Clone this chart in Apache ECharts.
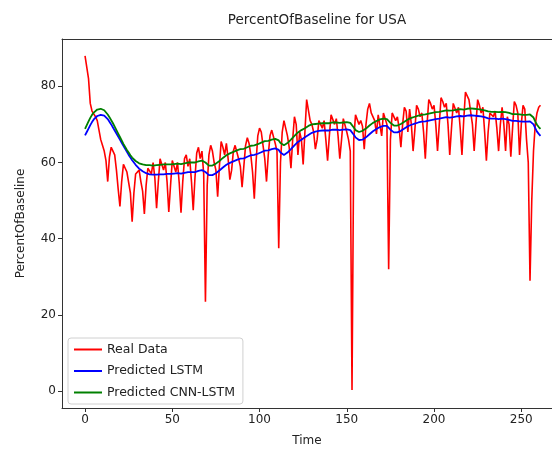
<!doctype html>
<html lang="en">
<head>
<meta charset="UTF-8">
<script src="https://cdn.jsdelivr.net/npm/echarts@6/dist/echarts.min.js"></script>
<style>
  html, body { margin: 0; padding: 0; background: #fff; }
  #main { width: 552px; height: 452px; }
</style>
</head>
<body>
<div id="main"></div>
<script>
// tick labels
var xTicks = [0, 50, 100, 150, 200, 250];
var yTicks = [0, 20, 40, 60, 80];

// Real Data (red)
var realData = [
  88.0, 87.5, 82.0, 75.5, 73.5, 73.0, 72.0, 71.0, 68.5, 66.0, 64.5, 63.0, 60.5, 55.0,
  61.5, 64.0, 63.0, 62.0, 58.0, 53.0, 48.5,
  55.0, 59.5, 60.0, 57.5, 58.0, 52.0, 44.5,
  52.0, 57.0, 56.5, 58.0, 55.0, 52.5, 46.5,
  54.0, 58.5, 59.0, 57.0, 60.0, 56.0, 48.0,
  55.0, 61.0, 60.5, 58.0, 60.0, 55.0, 47.0,
  54.0, 60.5, 60.0, 57.5, 60.0, 54.5, 46.8,
  55.0, 61.0, 62.0, 59.0, 61.0, 55.0, 47.5,
  56.0, 62.5, 64.0, 61.0, 63.0, 57.0, 23.5,
  54.0, 62.0, 64.5, 63.0, 60.0, 58.0, 51.0,
  59.0, 65.5, 64.0, 62.0, 65.0, 61.0, 55.5,
  58.0, 63.0, 64.5, 64.0, 61.0, 59.0, 53.5,
  59.0, 64.5, 66.5, 65.0, 62.0, 57.5, 50.5,
  60.0, 67.0, 69.0, 68.0, 64.5, 61.0, 55.0,
  62.0, 67.0, 68.5, 69.0, 65.0, 63.0, 37.5,
  60.0, 68.0, 71.0, 70.5, 67.0, 64.0, 58.5,
  66.0, 72.0, 70.0, 62.0, 68.0, 66.0, 59.5,
  68.0, 76.5, 76.0, 71.0, 70.0, 68.0, 63.5,
  66.0, 71.0, 70.5, 69.0, 71.0, 66.0, 60.5,
  67.0, 72.5, 72.0, 70.0, 71.5, 67.0, 61.0,
  66.0, 71.5, 71.0, 68.0, 66.0, 63.0, 0.3,
  66.0, 72.5, 72.0, 70.0, 71.0, 69.5, 63.5,
  70.0, 74.0, 75.5, 73.0, 73.5, 71.0, 67.5,
  72.5, 73.0, 67.0, 73.0, 72.5, 70.0, 32.0,
  66.0, 73.0, 72.5, 71.0, 72.0, 69.0, 64.0,
  70.0, 74.5, 73.5, 68.0, 74.0, 70.0, 63.0,
  68.5, 75.0, 74.0, 72.0, 73.0, 68.0, 61.0,
  70.0, 76.5, 75.5, 74.0, 75.0, 70.0, 63.0,
  70.0, 77.0, 76.0, 74.5, 75.5, 70.0, 62.0,
  69.0, 75.5, 75.0, 73.0, 74.5, 69.0, 62.0,
  71.0, 78.5, 77.5, 76.5, 77.0, 70.0, 63.0,
  70.0, 76.5, 75.0, 73.0, 74.5, 68.0, 60.5,
  68.0, 73.0, 72.5, 72.0, 73.5, 69.0, 63.0,
  70.0, 74.5, 70.0, 63.0, 72.0, 70.0, 61.5,
  69.0, 76.0, 75.0, 73.0, 62.0, 70.0, 75.0,
  74.0, 66.0, 60.0, 29.0, 50.0, 63.0, 70.0,
  73.0, 74.5, 75.0
];

// Predicted LSTM (blue)
var lstmData = [
  67.1, 68.0, 68.9, 69.8, 70.6, 71.3, 71.8, 72.2, 72.4, 72.5, 72.5, 72.3, 71.9, 71.4, 70.7, 70.0, 69.2, 68.4, 67.6, 66.8,
  66.0, 65.2, 64.4, 63.6, 62.8, 62.0, 61.3, 60.6, 60.0, 59.4, 58.9, 58.4, 58.0, 57.7, 57.4, 57.2, 57.0, 56.9, 56.8, 56.8,
  56.8, 56.8, 56.8, 56.9, 56.9, 56.9, 57.0, 57.0, 56.9, 57.0, 57.0, 57.1, 57.1, 57.2, 57.2, 57.1, 57.2, 57.3, 57.4, 57.5,
  57.5, 57.5, 57.4, 57.5, 57.7, 57.8, 57.9, 58.0, 57.9, 57.5, 57.0, 56.7, 56.6, 56.7, 56.9, 57.2, 57.5, 57.9, 58.3, 58.7,
  59.1, 59.4, 59.7, 59.9, 60.1, 60.3, 60.5, 60.7, 60.9, 61.0, 61.0, 61.1, 61.3, 61.5, 61.7, 61.9, 62.0, 62.0, 62.1, 62.3,
  62.5, 62.7, 62.9, 63.1, 63.1, 63.2, 63.3, 63.5, 63.6, 63.7, 63.7, 63.3, 62.6, 62.1, 62.0, 62.2, 62.6, 63.1, 63.5, 64.0,
  64.5, 65.0, 65.4, 65.7, 66.0, 66.3, 66.6, 66.9, 67.2, 67.5, 67.8, 68.0, 68.1, 68.2, 68.3, 68.4, 68.4, 68.4, 68.4, 68.3,
  68.4, 68.5, 68.6, 68.6, 68.6, 68.6, 68.5, 68.5, 68.6, 68.7, 68.7, 68.6, 68.5, 68.1, 67.3, 66.6, 66.1, 65.9, 65.9, 66.0,
  66.2, 66.6, 67.0, 67.4, 67.8, 68.2, 68.5, 68.8, 69.1, 69.3, 69.5, 69.6, 69.7, 69.6, 69.2, 68.6, 68.1, 67.9, 67.8, 67.9,
  68.1, 68.3, 68.6, 68.9, 69.2, 69.5, 69.7, 69.9, 70.0, 70.2, 70.3, 70.5, 70.6, 70.7, 70.8, 70.8, 70.9, 71.0, 71.1, 71.2,
  71.3, 71.4, 71.4, 71.5, 71.6, 71.7, 71.8, 71.9, 71.9, 71.8, 71.8, 71.9, 72.0, 72.1, 72.2, 72.2, 72.1, 72.1, 72.2, 72.3,
  72.4, 72.4, 72.4, 72.3, 72.2, 72.2, 72.1, 72.1, 72.0, 71.9, 71.7, 71.6, 71.5, 71.5, 71.5, 71.5, 71.5, 71.4, 71.4, 71.5,
  71.5, 71.4, 71.3, 71.2, 71.0, 70.9, 70.9, 70.9, 70.9, 70.8, 70.8, 70.7, 70.7, 70.7, 70.8, 70.8, 70.6, 70.0, 69.0, 68.1,
  67.5, 67.0
];

// Predicted CNN-LSTM (green)
var cnnLstmData = [
  68.8, 69.8, 70.8, 71.7, 72.5, 73.1, 73.6, 73.9, 74.1, 74.1, 74.0, 73.7, 73.2, 72.6, 71.9, 71.1, 70.3, 69.4, 68.5, 67.6,
  66.7, 65.8, 64.9, 64.1, 63.3, 62.6, 61.9, 61.3, 60.8, 60.4, 60.1, 59.8, 59.6, 59.5, 59.4, 59.3, 59.3, 59.3, 59.2, 59.2,
  59.2, 59.3, 59.3, 59.4, 59.4, 59.5, 59.5, 59.5, 59.4, 59.5, 59.6, 59.6, 59.7, 59.7, 59.7, 59.6, 59.7, 59.8, 59.9, 60.0,
  60.0, 60.0, 59.9, 60.0, 60.2, 60.3, 60.4, 60.5, 60.4, 60.0, 59.5, 59.2, 59.1, 59.2, 59.4, 59.7, 60.0, 60.4, 60.8, 61.2,
  61.6, 61.9, 62.2, 62.4, 62.6, 62.8, 63.0, 63.2, 63.4, 63.5, 63.5, 63.6, 63.8, 64.0, 64.2, 64.4, 64.5, 64.5, 64.6, 64.8,
  65.0, 65.2, 65.4, 65.6, 65.6, 65.7, 65.8, 66.0, 66.1, 66.2, 66.2, 65.8, 65.1, 64.6, 64.5, 64.7, 65.1, 65.6, 66.0, 66.5,
  67.0, 67.5, 67.9, 68.2, 68.5, 68.7, 69.0, 69.3, 69.6, 69.8, 70.0, 70.1, 70.1, 70.1, 70.2, 70.3, 70.3, 70.3, 70.3, 70.2,
  70.3, 70.4, 70.5, 70.5, 70.5, 70.5, 70.4, 70.4, 70.5, 70.6, 70.6, 70.5, 70.4, 70.0, 69.2, 68.5, 68.1, 68.0, 68.1, 68.3,
  68.5, 68.9, 69.3, 69.7, 70.1, 70.4, 70.7, 70.9, 71.1, 71.3, 71.4, 71.5, 71.5, 71.4, 71.0, 70.4, 69.9, 69.7, 69.6, 69.7,
  69.9, 70.1, 70.4, 70.7, 71.0, 71.3, 71.5, 71.7, 71.8, 72.0, 72.1, 72.3, 72.4, 72.5, 72.6, 72.6, 72.7, 72.8, 72.9, 73.0,
  73.1, 73.2, 73.2, 73.3, 73.4, 73.5, 73.6, 73.7, 73.7, 73.6, 73.6, 73.7, 73.8, 73.9, 74.0, 74.0, 73.9, 73.9, 74.0, 74.1,
  74.2, 74.2, 74.2, 74.1, 74.0, 74.0, 73.9, 73.9, 73.8, 73.7, 73.5, 73.4, 73.3, 73.3, 73.3, 73.3, 73.3, 73.2, 73.2, 73.3,
  73.3, 73.2, 73.1, 73.0, 72.8, 72.7, 72.7, 72.7, 72.7, 72.6, 72.6, 72.5, 72.5, 72.5, 72.6, 72.6, 72.4, 71.8, 70.8, 69.9,
  69.3, 68.8
];

function toPoints(arr) {
  return arr.map(function (v, i) { return [i, v]; });
}

var myChart = echarts.init(document.getElementById('main'), null, { renderer: 'canvas' });

var font = 'DejaVu Sans';
var spine = { show: true, onZero: false, lineStyle: { color: '#333', width: 1 } };

var option = {
  animation: false,
  backgroundColor: '#fff',
  textStyle: { fontFamily: font },
  title: {
    text: 'PercentOfBaseline for USA',
    left: 312, top: 8, textAlign: 'center',
    textStyle: { fontFamily: font, fontSize: 13.5, fontWeight: 'normal', color: '#222' }
  },
  legend: {
    orient: 'vertical',
    left: 68, top: 338,
    icon: 'rect', itemWidth: 28, itemHeight: 2, itemGap: 8.5,
    backgroundColor: 'rgba(255,255,255,0.8)',
    borderColor: '#d0d0d0', borderWidth: 1, borderRadius: 3,
    padding: [5, 8, 5, 6],
    textStyle: { fontFamily: font, fontSize: 12.5, color: '#222' },
    data: ['Real Data', 'Predicted LSTM', 'Predicted CNN-LSTM']
  },
  // plot area runs past the right edge of the picture, as in the reference
  grid: { left: 62, top: 39, right: 0, height: 375, show: false },
  xAxis: [
    {
      type: 'value', min: -13.2, max: 267.6,
      name: 'Time', nameLocation: 'middle', nameGap: 27,
      nameTextStyle: { fontFamily: font, fontSize: 12, color: '#222' },
      splitLine: { show: false },
      axisLine: spine,
      axisTick: { show: true, length: 4, customValues: xTicks, lineStyle: { color: '#333' } },
      axisLabel: { customValues: xTicks, fontSize: 12, color: '#222', margin: 6 }
    },
    {
      type: 'value', position: 'top', min: -13.2, max: 267.6,
      splitLine: { show: false }, axisLine: spine,
      axisTick: { show: false }, axisLabel: { show: false }
    }
  ],
  yAxis: {
    type: 'value', min: -4.4, max: 92.4,
    name: 'PercentOfBaseline', nameLocation: 'middle', nameGap: 35, nameRotate: 90,
    nameTextStyle: { fontFamily: font, fontSize: 12, color: '#222' },
    splitLine: { show: false },
    axisLine: spine,
    axisTick: { show: true, length: 4, customValues: yTicks, lineStyle: { color: '#333' } },
    axisLabel: { customValues: yTicks, fontSize: 12, color: '#222', margin: 6 }
  },
  series: [
    {
      name: 'Real Data', type: 'line', data: toPoints(realData),
      showSymbol: false, symbol: 'none', color: '#ff0000',
      lineStyle: { width: 1.6, color: '#ff0000' }
    },
    {
      name: 'Predicted LSTM', type: 'line', data: toPoints(lstmData),
      showSymbol: false, symbol: 'none', color: '#0000ff',
      lineStyle: { width: 1.8, color: '#0000ff' }
    },
    {
      name: 'Predicted CNN-LSTM', type: 'line', data: toPoints(cnnLstmData),
      showSymbol: false, symbol: 'none', color: '#008000',
      lineStyle: { width: 1.8, color: '#008000' }
    }
  ]
};

myChart.setOption(option);
</script>
</body>
</html>
